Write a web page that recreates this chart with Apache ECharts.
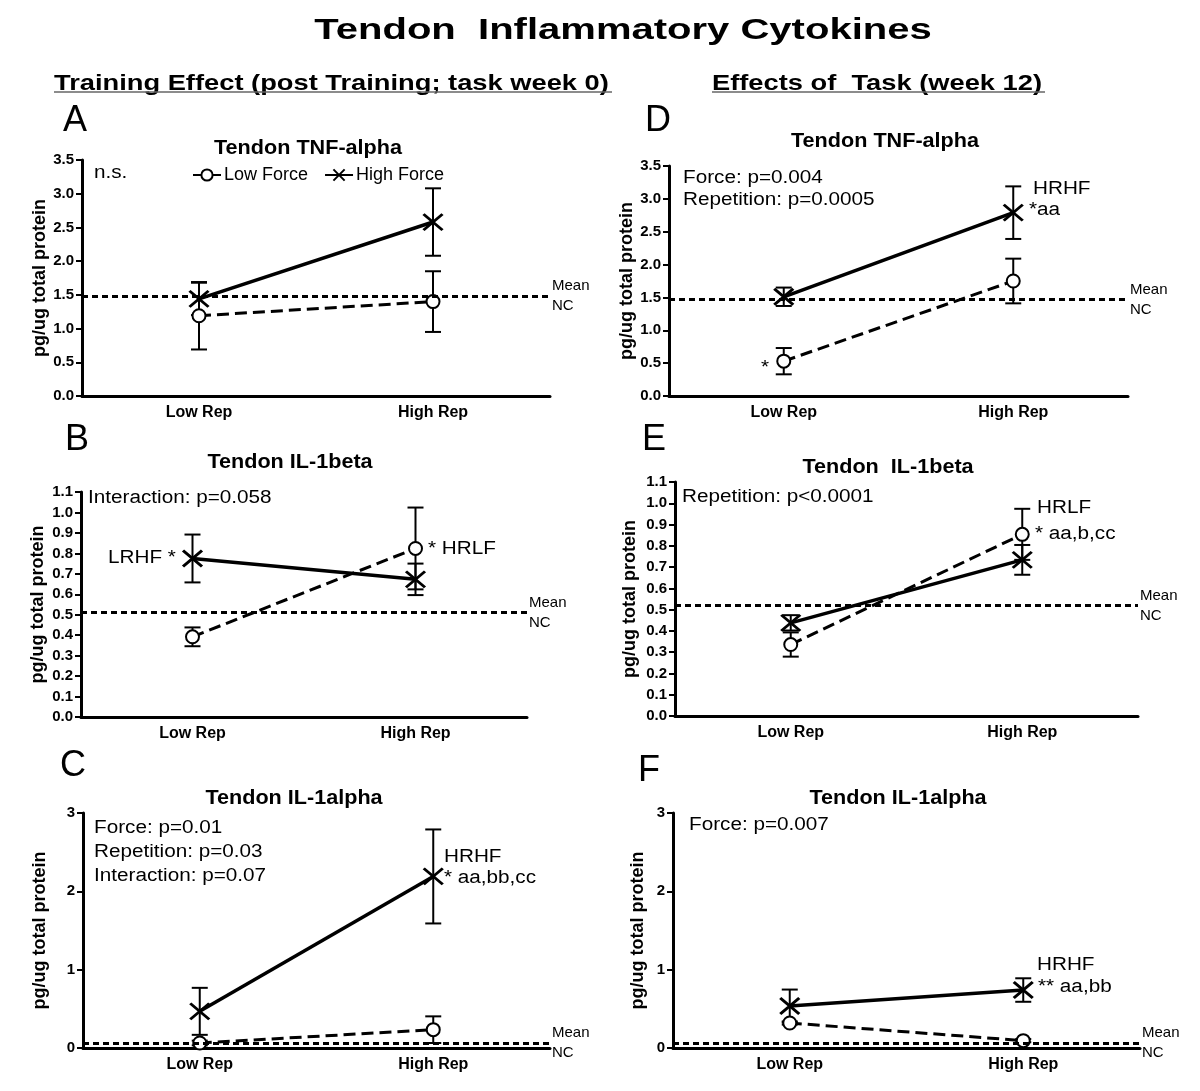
<!DOCTYPE html>
<html>
<head>
<meta charset="utf-8">
<script src="https://cdn.jsdelivr.net/npm/echarts@6/dist/echarts.min.js"></script>
<style>
  html, body { margin: 0; padding: 0; background: #fff; }
  #main { width: 1200px; height: 1091px; }
</style>
</head>
<body>
<div id="main"></div>
<script>
// categories on every x axis
var cats = ['Low Rep', 'High Rep'];

// A: TNF-alpha, training effect (week 0)
var tnfTrainLF = [1.19, 1.40];
var tnfTrainLFsem = [0.50, 0.45];
var tnfTrainHF = [1.44, 2.58];
var tnfTrainHFsem = [0.24, 0.50];
// B: IL-1beta, training effect
var il1bTrainLF = [0.392, 0.824];
var il1bTrainLFsem = [0.046, 0.20];
var il1bTrainHF = [0.775, 0.673];
var il1bTrainHFsem = [0.117, 0.077];
// C: IL-1alpha, training effect
var il1aTrainLF = [0.064, 0.234];
var il1aTrainLFsem = [0.03, 0.17];
var il1aTrainHF = [0.468, 2.19];
var il1aTrainHFsem = [0.30, 0.60];
// D: TNF-alpha, task week 12
var tnfTaskLF = [0.53, 1.75];
var tnfTaskLFsem = [0.20, 0.34];
var tnfTaskHF = [1.51, 2.79];
var tnfTaskHFsem = [0.14, 0.40];
// E: IL-1beta, task week 12
var il1bTaskLF = [0.336, 0.854];
var il1bTaskLFsem = [0.057, 0.12];
var il1bTaskHF = [0.438, 0.734];
var il1bTaskHFsem = [0.036, 0.07];
// F: IL-1alpha, task week 12
var il1aTaskLF = [0.319, 0.094];
var il1aTaskLFsem = [0.02, 0.02];
var il1aTaskHF = [0.536, 0.74];
var il1aTaskHFsem = [0.21, 0.15];

// mean of normal controls, panels A..F
var meanNC = [1.48, 0.513, 0.055, 1.47, 0.515, 0.055];
// y axis ranges, panels A..F
var yMax = [3.5, 1.1, 3, 3.5, 1.1, 3];
var yStep = [0.5, 0.1, 1, 0.5, 0.1, 1];

var panelData = [
  [tnfTrainLF, tnfTrainLFsem, tnfTrainHF, tnfTrainHFsem],
  [il1bTrainLF, il1bTrainLFsem, il1bTrainHF, il1bTrainHFsem],
  [il1aTrainLF, il1aTrainLFsem, il1aTrainHF, il1aTrainHFsem],
  [tnfTaskLF, tnfTaskLFsem, tnfTaskHF, tnfTaskHFsem],
  [il1bTaskLF, il1bTaskLFsem, il1bTaskHF, il1bTaskHFsem],
  [il1aTaskLF, il1aTaskLFsem, il1aTaskHF, il1aTaskHFsem]
];

// layout
var grids = [
  {left: 82, top: 160, width: 468, height: 236},
  {left: 81, top: 492, width: 446, height: 225},
  {left: 83, top: 813, width: 467, height: 235},
  {left: 669, top: 166, width: 459, height: 230},
  {left: 675, top: 482, width: 463, height: 234},
  {left: 673, top: 813, width: 467, height: 235}
];
var nameGaps = [33, 34, 34, 28, 36, 26];

var FONT = 'Liberation Sans, Arial, sans-serif';
var xMark = 'path://M0,0L10,10M10,0L0,10';

var xAxes = [], yAxes = [], series = [];

grids.forEach(function (g, i) {
  g.outerBoundsMode = 'none';
  xAxes.push({
    type: 'category', gridIndex: i, data: cats, boundaryGap: true,
    axisLine: {lineStyle: {color: '#000', width: 3}},
    axisTick: {alignWithLabel: true, length: 6, lineStyle: {width: 2, color: '#000'}},
    axisLabel: {color: '#000', fontFamily: FONT, fontWeight: 'bold', fontSize: 16, margin: 9},
    splitLine: {show: false}
  });
  yAxes.push({
    type: 'value', gridIndex: i, min: 0, max: yMax[i], interval: yStep[i],
    name: 'pg/ug total protein', nameLocation: 'middle', nameGap: nameGaps[i],
    nameTextStyle: {color: '#000', fontFamily: FONT, fontWeight: 'bold', fontSize: 18},
    axisLine: {show: true, lineStyle: {color: '#000', width: 3}},
    axisTick: {show: true, length: 6, lineStyle: {width: 2, color: '#000'}},
    axisLabel: {
      color: '#000', fontFamily: FONT, fontWeight: 'bold', fontSize: 15, margin: 8,
      formatter: function (v) { return yStep[i] < 1 ? v.toFixed(1) : String(Math.round(v)); }
    },
    splitLine: {show: false}
  });

  var d = panelData[i];
  [[d[0], d[1]], [d[2], d[3]]].forEach(function (grp) {
    series.push({
      type: 'custom', xAxisIndex: i, yAxisIndex: i, z: 2, silent: true,
      data: grp[0].map(function (m, j) { return [j, m - grp[1][j], m + grp[1][j]]; }),
      encode: {x: 0, y: [1, 2]},
      renderItem: function (params, api) {
        var lo = api.coord([api.value(0), api.value(1)]);
        var hi = api.coord([api.value(0), api.value(2)]);
        var w = 8, st = {stroke: '#000', lineWidth: 2};
        return {type: 'group', children: [
          {type: 'line', shape: {x1: lo[0], y1: lo[1], x2: hi[0], y2: hi[1]}, style: st},
          {type: 'line', shape: {x1: lo[0] - w, y1: lo[1], x2: lo[0] + w, y2: lo[1]}, style: st},
          {type: 'line', shape: {x1: hi[0] - w, y1: hi[1], x2: hi[0] + w, y2: hi[1]}, style: st}
        ]};
      }
    });
  });

  series.push({
    name: 'Low Force', type: 'line', xAxisIndex: i, yAxisIndex: i, z: 3,
    data: d[0], symbol: 'emptyCircle', symbolSize: 13,
    lineStyle: {color: '#000', width: 3, type: [12, 6]},
    itemStyle: {color: '#000', borderColor: '#000', borderWidth: 2},
    markLine: {
      silent: true, symbol: ['none', 'none'],
      lineStyle: {color: '#000', width: 3, type: [6, 4]},
      label: {position: 'end', distance: 2, formatter: 'Mean\nNC', color: '#000',
        fontFamily: FONT, fontSize: 15, lineHeight: 20},
      data: [{yAxis: meanNC[i]}]
    }
  });
  series.push({
    name: 'High Force', type: 'line', xAxisIndex: i, yAxisIndex: i, z: 4,
    data: d[2], symbol: xMark, symbolSize: [19, 16],
    lineStyle: {color: '#000', width: 3.5, type: 'solid'},
    itemStyle: {color: '#000', borderColor: '#000', borderWidth: 2.8}
  });
});

// text elements
function txt(x, y, s, size, opt) {
  opt = opt || {};
  return {
    type: 'text', x: x, y: y, scaleX: opt.sx || 1, silent: true,
    style: {
      text: s, fill: '#000', fontFamily: FONT, fontSize: size,
      fontWeight: opt.bold ? 'bold' : 'normal',
      textAlign: opt.align || 'left', textVerticalAlign: 'middle'
    }
  };
}
var B = {bold: true, align: 'center', sx: 1.08};
var N = {sx: 1.15};
var graphics = [
  txt(623, 31, 'Tendon  Inflammatory Cytokines', 29, {bold: true, align: 'center', sx: 1.38}),
  txt(54, 84, 'Training Effect (post Training; task week 0)', 22, {bold: true, sx: 1.24}),
  txt(712, 84, 'Effects of  Task (week 12)', 22, {bold: true, sx: 1.24}),
  {type: 'line', silent: true, shape: {x1: 54, y1: 92, x2: 612, y2: 92}, style: {stroke: '#666', lineWidth: 1.5}},
  {type: 'line', silent: true, shape: {x1: 712, y1: 92, x2: 1045, y2: 92}, style: {stroke: '#666', lineWidth: 1.5}},
  // panel letters
  txt(63, 121, 'A', 36), txt(645, 121, 'D', 36),
  txt(65, 440, 'B', 36), txt(642, 440, 'E', 36),
  txt(60, 766, 'C', 36), txt(638, 771, 'F', 36),
  // panel titles
  txt(308, 148, 'Tendon TNF-alpha', 20, B),
  txt(290, 462, 'Tendon IL-1beta', 20, B),
  txt(294, 798, 'Tendon IL-1alpha', 20, B),
  txt(885, 141, 'Tendon TNF-alpha', 20, B),
  txt(888, 467, 'Tendon  IL-1beta', 20, B),
  txt(898, 798, 'Tendon IL-1alpha', 20, B),
  // statistics
  txt(94, 173, 'n.s.', 18, N),
  txt(683, 178, 'Force: p=0.004', 18, N),
  txt(683, 200, 'Repetition: p=0.0005', 18, N),
  txt(88, 498, 'Interaction: p=0.058', 18, N),
  txt(682, 497, 'Repetition: p<0.0001', 18, N),
  txt(94, 828, 'Force: p=0.01', 18, N),
  txt(94, 852, 'Repetition: p=0.03', 18, N),
  txt(94, 876, 'Interaction: p=0.07', 18, N),
  txt(689, 825, 'Force: p=0.007', 18, N),
  // group annotations
  txt(1033, 189, 'HRHF', 18, N),
  txt(1029, 210, '*aa', 18, N),
  txt(761, 368, '*', 18, N),
  txt(108, 558, 'LRHF *', 18, N),
  txt(428, 549, '* HRLF', 18, N),
  txt(1037, 508, 'HRLF', 18, N),
  txt(1035, 534, '* aa,b,cc', 18, N),
  txt(444, 857, 'HRHF', 18, N),
  txt(444, 878, '* aa,bb,cc', 18, N),
  txt(1037, 965, 'HRHF', 18, N),
  txt(1038, 987, '** aa,bb', 18, N)
];

var chart = echarts.init(document.getElementById('main'));
chart.setOption({
  backgroundColor: '#fff',
  animation: false,
  grid: grids,
  xAxis: xAxes,
  yAxis: yAxes,
  legend: {
    left: 187, top: 161, itemWidth: 28, itemHeight: 14, itemGap: 16,
    data: ['Low Force', 'High Force'],
    textStyle: {color: '#000', fontFamily: FONT, fontSize: 18, padding: [0, 0, 0, -2]}
  },
  series: series,
  graphic: graphics
});
</script>
</body>
</html>
